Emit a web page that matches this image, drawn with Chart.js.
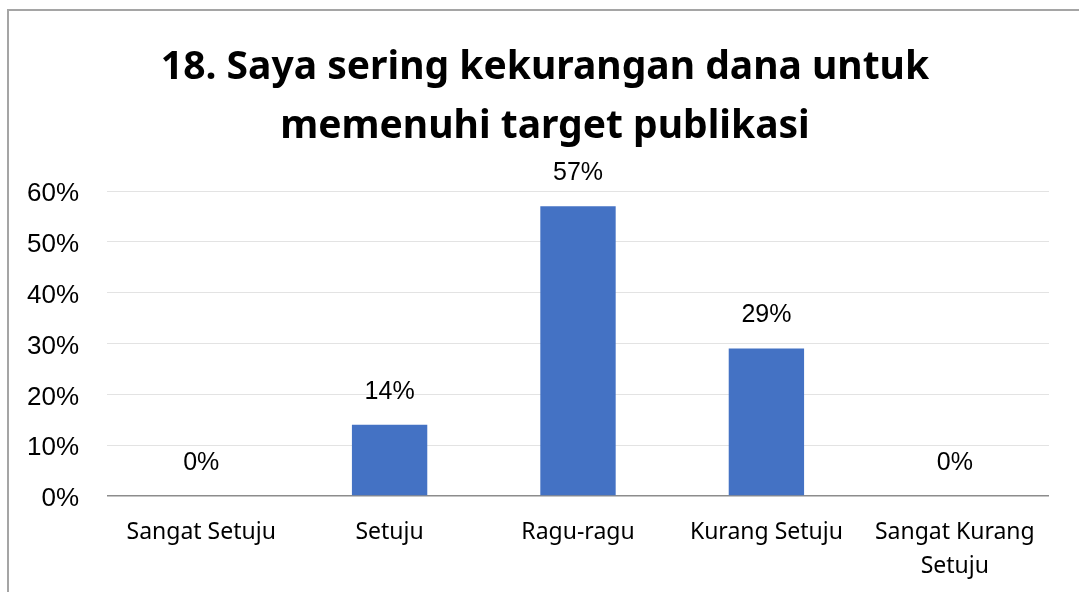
<!DOCTYPE html>
<html>
<head>
<meta charset="utf-8">
<script src="https://cdn.jsdelivr.net/npm/chart.js@4"></script>
<style>
  html, body { margin: 0; padding: 0; background: #fff; overflow: hidden; }
  #frame { position: absolute; left: 7px; top: 9px; width: 1100px; height: 700px; border: 2px solid #a5a5a5; }
  #wrap { position: absolute; left: 0; top: 0; width: 1079px; height: 592px; }
</style>
</head>
<body>
<div id="frame"></div>
<div id="wrap"><canvas id="myChart"></canvas></div>
<script>
// Datos del gráfico
const categories = ['Sangat Setuju', 'Setuju', 'Ragu-ragu', 'Kurang Setuju', ['Sangat Kurang', 'Setuju']];
const values = [0, 14, 57, 29, 0];
const valueLabels = ['0%', '14%', '57%', '29%', '0%'];
const yTicks = [0, 10, 20, 30, 40, 50, 60];
const titleLines = ['18. Saya sering kekurangan dana untuk', 'memenuhi target publikasi'];

const labelFont = "'Liberation Sans', Arial, sans-serif";
const catFont = "'Noto Sans', 'Open Sans', sans-serif";

// Título centrado como en el original (un poco a la derecha del centro)
const titlePlugin = {
    id: 'chartTitle',
    afterDraw(chart) {
        const ctx = chart.ctx;
        ctx.save();
        ctx.fillStyle = '#000';
        ctx.font = "bold 39px 'Noto Sans', sans-serif";
        ctx.textAlign = 'center';
        ctx.textBaseline = 'middle';
        titleLines.forEach((line, i) => {
            ctx.fillText(line, 545, 68 + i * 59);
        });
        ctx.restore();
    }
};

// Etiquetas encima de cada barra
const valueLabelPlugin = {
    id: 'valueLabels',
    afterDatasetsDraw(chart) {
        const ctx = chart.ctx;
        const meta = chart.getDatasetMeta(0);
        ctx.save();
        ctx.fillStyle = '#000';
        ctx.font = '25px ' + labelFont;
        ctx.textAlign = 'center';
        ctx.textBaseline = 'middle';
        meta.data.forEach((bar, i) => {
            ctx.fillText(valueLabels[i], bar.x, bar.y - 33);
        });
        ctx.restore();
    }
};

const ctx = document.getElementById('myChart').getContext('2d');
const myChart = new Chart(ctx, {
    type: 'bar',
    data: {
        labels: categories,
        datasets: [{
            data: values,
            backgroundColor: '#4472c4',
            borderWidth: 0,
            barPercentage: 0.4,
            categoryPercentage: 1
        }]
    },
    options: {
        responsive: true,
        maintainAspectRatio: false,
        animation: false,
        layout: { padding: { left: 0, right: 30, top: 191, bottom: 0 } },
        plugins: {
            legend: { display: false },
            tooltip: { enabled: false },
            title: { display: false }
        },
        scales: {
            x: {
                grid: { display: false, drawTicks: false },
                border: { display: false },
                ticks: {
                    color: '#000',
                    padding: 19,
                    maxRotation: 0,
                    autoSkip: false,
                    font: { family: catFont, size: 23, lineHeight: 34 / 23 }
                },
                afterFit: (scale) => { scale.height = 96; }
            },
            y: {
                min: 0,
                max: 60,
                afterBuildTicks: (scale) => { scale.ticks = yTicks.map(v => ({ value: v })); },
                grid: {
                    drawTicks: false,
                    color: (c) => c.tick && c.tick.value === 0 ? '#8c8c8c' : '#e3e3e3',
                    lineWidth: (c) => c.tick && c.tick.value === 0 ? 1.5 : 1
                },
                border: { display: false },
                ticks: {
                    color: '#000',
                    padding: 28,
                    labelOffset: 3,
                    font: { family: labelFont, size: 26 },
                    callback: (v) => v + '%'
                },
                afterFit: (scale) => { scale.width = 107; }
            }
        }
    },
    plugins: [valueLabelPlugin, titlePlugin]
});
</script>
</body>
</html>
